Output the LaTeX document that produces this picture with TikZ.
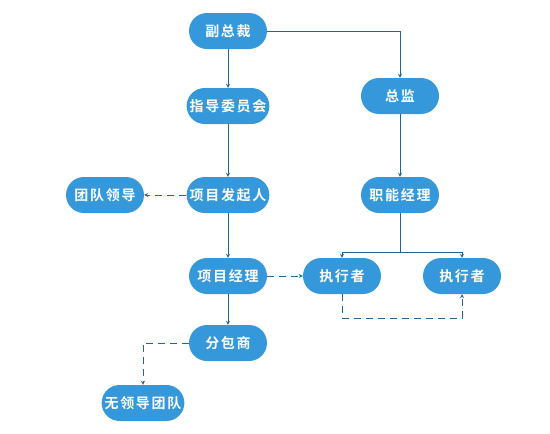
\documentclass[tikz,border=0pt]{standalone}
\usepackage{fontspec}
\newfontfamily\cjk[LetterSpace=12]{Noto Sans CJK SC Bold}
\usepackage{tikz}
\usetikzlibrary{arrows,positioning,calc}
\definecolor{boxblue}{RGB}{52,152,219}
\definecolor{lineblue}{RGB}{31,101,150}
\tikzset{
  role/.style={rectangle, rounded corners=18pt, fill=boxblue, text=white, minimum width=78pt, minimum height=36pt, inner xsep=3pt, font=\cjk\fontsize{14}{16}\selectfont},
  link/.style={draw=lineblue, line width=0.8pt, -stealth},
  dlink/.style={link, dash pattern=on 7pt off 5pt}
}
\begin{document}
\begin{tikzpicture}[x=1pt,y=-1pt]
            \useasboundingbox (0,0) rectangle (550,434);
            \node[role] (vp) at (228,31) {副总裁};
            \node[role] (steer) at (228,106) {指导委员会};
            \node[role] (dir) at (400,96) {总监};
            \node[role] (lead) at (105,195) {团队领导};
            \node[role] (sponsor) at (228,195) {项目发起人};
            \node[role] (fmgr) at (400,195) {职能经理};
            \node[role] (pm) at (228,276) {项目经理};
            \node[role] (execA) at (342,276) {执行者};
            \node[role] (execB) at (462,276) {执行者};
            \node[role] (sub) at (228,343) {分包商};
            \node[role] (team) at (143,403) {无领导团队};
            \draw[link] (vp) -- (steer);
            \draw[link] (vp.east) -| (dir.north);
            \draw[link] (steer) -- (sponsor);
            \draw[dlink] (sponsor) -- (lead);
            \draw[link] (sponsor) -- (pm);
            \draw[link] (dir) -- (fmgr);
            \coordinate (split) at ($(fmgr.south)+(0,39)$);
            \draw[link] (fmgr.south) -- (split) -| (execA.north);
            \draw[link] (split) -| (execB.north);
            \draw[dlink] (pm) -- (execA);
            \draw[dlink] (execA.south) -- ++(0,24) -| (execB.south);
            \draw[link] (pm) -- (sub);
            \draw[dlink] (sub.west) -| (team.north);
        \end{tikzpicture}
\end{document}
